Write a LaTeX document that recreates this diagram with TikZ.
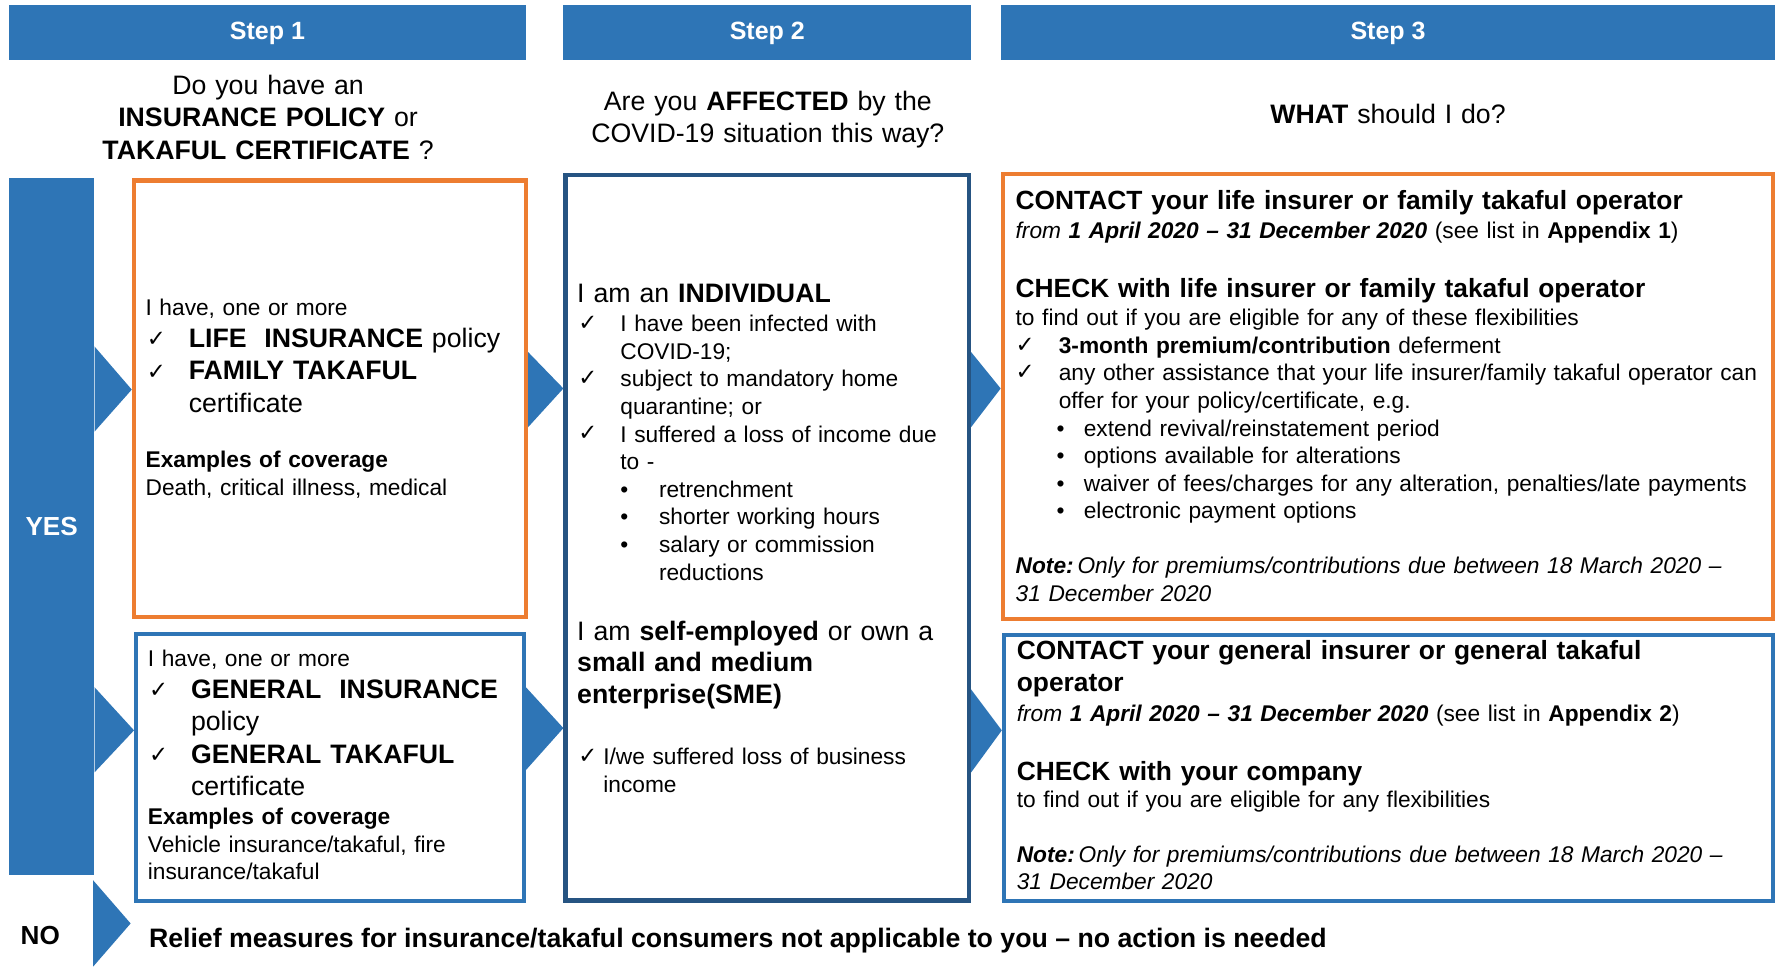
\documentclass[tikz,border=0pt]{standalone}
\usepackage{fontspec}
\setmainfont{Liberation Sans}
\newfontfamily\chkfont{DejaVu Sans}
\usetikzlibrary{positioning}

\definecolor{stepblue}{RGB}{46,117,182}
\definecolor{boxorange}{RGB}{237,125,49}
\definecolor{boxnavy}{RGB}{38,84,130}

\tikzstyle{stepbar} = [rectangle, fill=stepblue, text=white, minimum height=49pt, text depth=3pt, font=\bfseries\fontsize{22}{26}\selectfont]
\tikzstyle{question} = [anchor=base, inner sep=0pt, text width=440pt, align=center, font=\fontsize{23.5}{28.5}\selectfont]
\tikzstyle{orangebox} = [rectangle, draw=boxorange, line width=4pt]
\tikzstyle{bluebox} = [rectangle, draw=stepblue, line width=3.5pt]
\tikzstyle{navybox} = [rectangle, draw=boxnavy, line width=4pt]
\tikzstyle{smalltxt} = [anchor=base west, inner sep=0pt, align=left, font=\fontsize{20}{24.3}\selectfont]
\tikzstyle{bigtxt} = [anchor=base west, inner sep=0pt, align=left, font=\fontsize{23.5}{28.5}\selectfont]
\tikzstyle{headtxt} = [anchor=base west, inner sep=0pt, align=left, font=\bfseries\fontsize{23.2}{28}\selectfont]
\tikzstyle{chk} = [anchor=base west, inner sep=0pt, font=\chkfont\fontsize{20}{24}\selectfont]
\tikzstyle{bul} = [anchor=base west, inner sep=0pt, font=\fontsize{20}{24}\selectfont]

\begin{document}
\begin{tikzpicture}[x=1pt, y=-1pt]
\path[use as bounding box, fill=white] (0,0) rectangle (1568,855);

% column headers and questions
\node[stepbar, minimum width=455pt] (step1) at (235.5,28.5) {Step 1};
\node[stepbar, minimum width=359pt] (step2) at (675.5,28.5) {Step 2};
\node[stepbar, minimum width=682pt] (step3) at (1222,28.5) {Step 3};

\node[question] (q1) at (236,83) {Do you have an\\\textbf{INSURANCE POLICY} or\\\textbf{TAKAFUL CERTIFICATE} ?};
\node[question] (q2) at (676,97) {Are you \textbf{AFFECTED} by the\\COVID-19 situation this way?};
\node[question] (q3) at (1222,109) {\textbf{WHAT} should I do?};

% yes bar
\node[rectangle, fill=stepblue, minimum width=75pt, minimum height=613pt, text=white, font=\bfseries\fontsize{23}{27}\selectfont] (yes) at (45.5,463.5) {YES};

% boxes
\node[orangebox, minimum width=345pt, minimum height=384pt] (s1top) at (290.5,351) {};
\node[bluebox, minimum width=341.5pt, minimum height=235.5pt] (s1bot) at (290.5,675.5) {};
\node[navybox, minimum width=355pt, minimum height=639pt] (s2box) at (675.5,473.5) {};
\node[orangebox, minimum width=678pt, minimum height=392pt] (s3top) at (1222,349) {};
\node[bluebox, minimum width=677.5pt, minimum height=234.5pt] (s3bot) at (1222.5,676) {};

% pointers
\fill[stepblue] (yes.east |- 0,305) -- (s1top.west |- 0,343) -- (yes.east |- 0,380) -- cycle;
\fill[stepblue] (yes.east |- 0,605) -- (s1bot.west |- 0,643) -- (yes.east |- 0,680) -- cycle;
\fill[stepblue] (82,775) -- (115,813) -- (82,851) -- cycle;
\fill[stepblue] (s1top.east |- 0,310) -- (s2box.west |- 0,342) -- (s1top.east |- 0,376) -- cycle;
\fill[stepblue] (s1bot.east |- 0,605) -- (s2box.west |- 0,641) -- (s1bot.east |- 0,678) -- cycle;
\fill[stepblue] (s2box.east |- 0,310) -- (s3top.west |- 0,342) -- (s2box.east |- 0,376) -- cycle;
\fill[stepblue] (s2box.east |- 0,607) -- (s3bot.west |- 0,643) -- (s2box.east |- 0,680) -- cycle;

% step 1, life cover
\node[smalltxt, text width=320pt] (s1intro) at (128,278) {I have, one or more};
\node[chk] (s1c1) at (129,305) {✓};
\node[chk] (s1c2) at (129,334) {✓};
\node[bigtxt, text width=300pt] (s1items) at (166,306) {\textbf{LIFE\ \ INSURANCE} policy\\\textbf{FAMILY TAKAFUL}\\certificate};
\node[smalltxt, text width=320pt] (s1ex) at (128,412) {\textbf{Examples of coverage}\\Death, critical illness, medical};

% step 1, general cover
\node[smalltxt, text width=320pt] (s1bintro) at (130,587) {I have, one or more};
\node[chk] (s1bc1) at (131,614) {✓};
\node[chk] (s1bc2) at (131,671) {✓};
\node[bigtxt, text width=300pt] (s1bitems) at (168,615) {\textbf{GENERAL\ \ INSURANCE}\\policy\\\textbf{GENERAL TAKAFUL}\\certificate};
\node[smalltxt, text width=320pt] (s1bex) at (130,726) {\textbf{Examples of coverage}\\Vehicle insurance/takaful, fire\\insurance/takaful};

% step 2
\node[bigtxt, text width=330pt] (indiv) at (508,266) {I am an \textbf{INDIVIDUAL}};
\node[chk] (s2c1) at (509,291) {✓};
\node[chk] (s2c2) at (509,339.6) {✓};
\node[chk] (s2c3) at (509,388.2) {✓};
\node[smalltxt, text width=300pt] (indivlist) at (546,292) {I have been infected with\\COVID-19;\\subject to mandatory home\\quarantine; or\\I suffered a loss of income due\\to -};
\node[bul] (s2b1) at (546,437.8) {•};
\node[bul] (s2b2) at (546,462.1) {•};
\node[bul] (s2b3) at (546,486.4) {•};
\node[smalltxt, text width=260pt] (incomelist) at (580,437.8) {retrenchment\\shorter working hours\\salary or commission\\reductions};
\node[bigtxt, text width=330pt, font=\fontsize{23.5}{27.5}\selectfont] (sme) at (508,564) {I am \textbf{self-employed} or own a\\\textbf{small and medium}\\\textbf{enterprise(SME)}};
\node[chk] (s2c4) at (509,672) {✓};
\node[smalltxt, text width=310pt] (smelist) at (531,673) {I/we suffered loss of business\\income};

% step 3, life cover
\node[headtxt, text width=660pt] (contact1) at (894,184) {CONTACT your life insurer or family takaful operator};
\node[smalltxt, text width=660pt] (from1) at (894,210) {\textit{from \textbf{1 April 2020 – 31 December 2020}} (see list in \textbf{Appendix 1})};
\node[headtxt, text width=660pt] (check1) at (894,262) {CHECK with life insurer or family takaful operator};
\node[smalltxt, text width=660pt] (find1) at (894,287) {to find out if you are eligible for any of these flexibilities};
\node[chk] (s3c1) at (894,310) {✓};
\node[chk] (s3c2) at (894,334.3) {✓};
\node[smalltxt, text width=630pt] (flex) at (932,311) {\textbf{3-month premium/contribution} deferment\\any other assistance that your life insurer/family takaful operator can\\offer for your policy/certificate, e.g.};
\node[bul] (s3b1) at (930,384) {•};
\node[bul] (s3b2) at (930,408.3) {•};
\node[bul] (s3b3) at (930,432.6) {•};
\node[bul] (s3b4) at (930,456.9) {•};
\node[smalltxt, text width=600pt] (extras) at (954,384) {extend revival/reinstatement period\\options available for alterations\\waiver of fees/charges for any alteration, penalties/late payments\\electronic payment options};
\node[smalltxt, text width=660pt] (note1) at (894,505) {\textbf{\textit{Note:}}\,\textit{Only for premiums/contributions due between 18 March 2020 –}\\\textit{31 December 2020}};

% step 3, general cover
\node[headtxt, text width=660pt] (contact2) at (895,581) {CONTACT your general insurer or general takaful\\operator};
\node[smalltxt, text width=660pt] (from2) at (895,635) {\textit{from \textbf{1 April 2020 – 31 December 2020}} (see list in \textbf{Appendix 2})};
\node[headtxt, text width=660pt] (check2) at (895,687) {CHECK with your company};
\node[smalltxt, text width=660pt] (find2) at (895,711) {to find out if you are eligible for any flexibilities};
\node[smalltxt, text width=660pt] (note2) at (895,759) {\textbf{\textit{Note:}}\,\textit{Only for premiums/contributions due between 18 March 2020 –}\\\textit{31 December 2020}};

% no row
\node[font=\bfseries\fontsize{23}{27}\selectfont] (no) at (35.5,824) {NO};
\node[anchor=base west, inner sep=0pt, font=\bfseries\fontsize{23.5}{28}\selectfont] (relief) at (131,834) {Relief measures for insurance/takaful consumers not applicable to you – no action is needed};

\end{tikzpicture}
\end{document}
